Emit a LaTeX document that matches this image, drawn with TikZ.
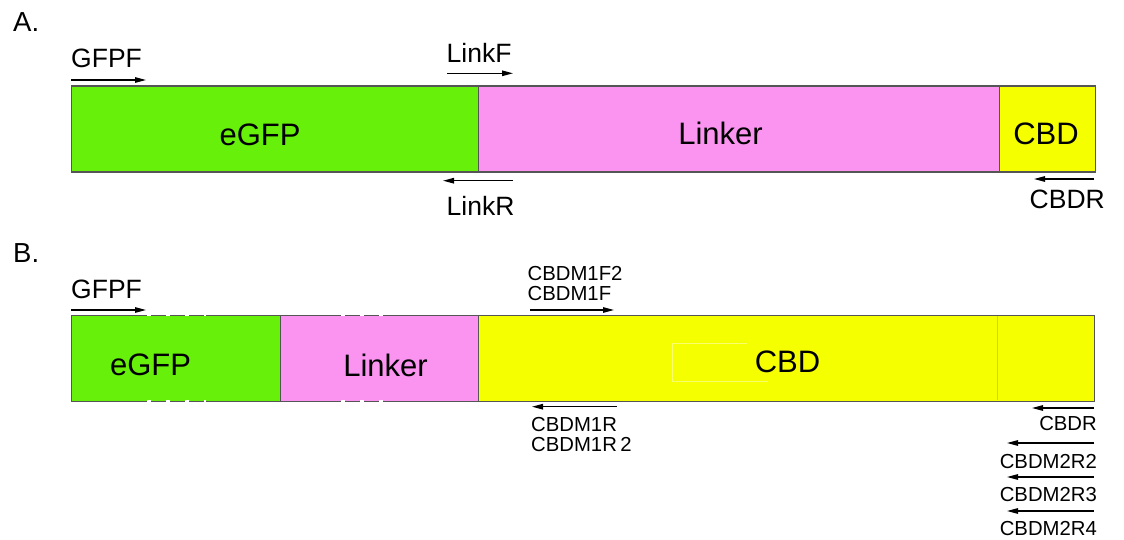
\documentclass[tikz,border=0pt]{standalone}
\usepackage{fontspec}
\setmainfont{Liberation Sans}
\usetikzlibrary{arrows.meta}
\definecolor{gfpgreen}{RGB}{102,240,10}
\definecolor{linkpink}{RGB}{250,148,240}
\definecolor{cbdyellow}{RGB}{245,255,0}
\definecolor{border}{RGB}{85,85,85}
\tikzset{
  box/.style={draw=border, line width=1.3pt, inner sep=0pt, anchor=north west},
  biglabel/.style={inner sep=0pt, anchor=base, font=\fontsize{31}{31}\selectfont},
  plabel/.style={inner sep=0pt, font=\fontsize{26.5}{26.5}\selectfont},
  slabel/.style={inner sep=0pt, font=\fontsize{20.3}{20.3}\selectfont},
  primer/.style={line width=1.3pt, -{Triangle[length=11pt,width=5.5pt]}},
  whitegap/.style={white, line width=1.8pt, dash pattern=on 3.5pt off 15.5pt},
}
\begin{document}
\begin{tikzpicture}[x=1pt,y=-1pt]
\useasboundingbox (0,0) rectangle (1124,540);
% section labels
\node[inner sep=0pt, font=\fontsize{27.5}{27.5}\selectfont, anchor=base west] (secA) at (13,32) {A.};
\node[inner sep=0pt, font=\fontsize{27.5}{27.5}\selectfont, anchor=base west] (secB) at (13,262.5) {B.};
% ---------- A ----------
\node[box, fill=gfpgreen, minimum width=407pt, minimum height=86pt] (aG) at (71,85.5) {};
\node[box, fill=linkpink, minimum width=521pt, minimum height=86pt] (aL) at (478,85.5) {};
\node[box, fill=cbdyellow, minimum width=96pt, minimum height=86pt] (aC) at (998.5,85.5) {};
\node[biglabel] (aGt) at (260,146) {eGFP};
\node[biglabel] (aLt) at (720.5,145) {Linker};
\node[biglabel] (aCt) at (1046,145) {CBD};
% primers A
\node[plabel, anchor=base west] (gfpfA) at (71,68) {GFPF};
\coordinate (gfpfA1) at (71,80); \coordinate (gfpfA2) at (146,80);
\draw[primer] (gfpfA1) -- (gfpfA2);
\node[plabel, anchor=base west] (linkf) at (446.5,62.5) {LinkF};
\coordinate (linkf1) at (447,73.3); \coordinate (linkf2) at (513,73.3);
\draw[primer] (linkf1) -- (linkf2);
\coordinate (linkr1) at (513,180.7); \coordinate (linkr2) at (443,180.7);
\draw[primer] (linkr1) -- (linkr2);
\node[plabel, anchor=base west] (linkr) at (446.5,215) {LinkR};
\coordinate (cbdrA1) at (1094,179); \coordinate (cbdrA2) at (1034,179);
\draw[primer] (cbdrA1) -- (cbdrA2);
\node[plabel, anchor=base east] (cbdrA) at (1105,208) {CBDR};
% ---------- B ----------
\node[box, fill=gfpgreen, minimum width=209pt, minimum height=86pt] (bG) at (71,315) {};
\node[box, fill=linkpink, minimum width=198.5pt, minimum height=86pt] (bL) at (280,315) {};
\node[box, fill=cbdyellow, minimum width=616pt, minimum height=86pt] (bC) at (478,315) {};
% faint marks
\draw[line width=0.6pt, color={rgb,255:red,205;green,205;blue,70}] (997,315.7) -- (997,400.3);
\draw[line width=0.4pt, color={rgb,255:red,250;green,255;blue,110}] (747,342.7) -- (672,342.7) -- (672,380.7) -- (768,380.7);
% white gaps in borders
\draw[whitegap] (147,315) -- (206,315);
\draw[whitegap] (147,401) -- (206,401);
\draw[whitegap] (341,315) -- (398,315);
\draw[whitegap] (341,401) -- (398,401);
\node[biglabel] (bGt) at (150.5,375) {eGFP};
\node[biglabel] (bLt) at (385.5,376.5) {Linker};
\node[biglabel] (bCt) at (787.5,372) {CBD};
% primers B
\node[plabel, anchor=base west] (gfpfB) at (71,298) {GFPF};
\coordinate (gfpfB1) at (71,310); \coordinate (gfpfB2) at (146,310);
\draw[primer] (gfpfB1) -- (gfpfB2);
\node[slabel, anchor=base west] (m1f2) at (527.5,280) {CBDM1F2};
\node[slabel, anchor=base west] (m1f) at (527.5,300) {CBDM1F};
\coordinate (m1f1) at (530,310); \coordinate (m1f2e) at (614,310);
\draw[primer] (m1f1) -- (m1f2e);
\coordinate (m1r1) at (617,406.7); \coordinate (m1r2) at (532,406.7);
\draw[primer] (m1r1) -- (m1r2);
\node[slabel, anchor=base west] (m1r) at (531,431.7) {CBDM1R};
\node[slabel, anchor=base west] (m1rr) at (531,451.7) {CBDM1R\,2};
\coordinate (cbdrB1) at (1094,408); \coordinate (cbdrB2) at (1032,408);
\draw[primer] (cbdrB1) -- (cbdrB2);
\node[slabel, anchor=base east] (cbdrB) at (1097,430) {CBDR};
\coordinate (m2r2a) at (1094,443); \coordinate (m2r2b) at (1007,443);
\draw[primer] (m2r2a) -- (m2r2b);
\node[slabel, anchor=base east] (m2r2) at (1097,468) {CBDM2R2};
\coordinate (m2r3a) at (1094,477); \coordinate (m2r3b) at (1007,477);
\draw[primer] (m2r3a) -- (m2r3b);
\node[slabel, anchor=base east] (m2r3) at (1097,501) {CBDM2R3};
\coordinate (m2r4a) at (1094,511); \coordinate (m2r4b) at (1007,511);
\draw[primer] (m2r4a) -- (m2r4b);
\node[slabel, anchor=base east] (m2r4) at (1097,535) {CBDM2R4};
\end{tikzpicture}
\end{document}
